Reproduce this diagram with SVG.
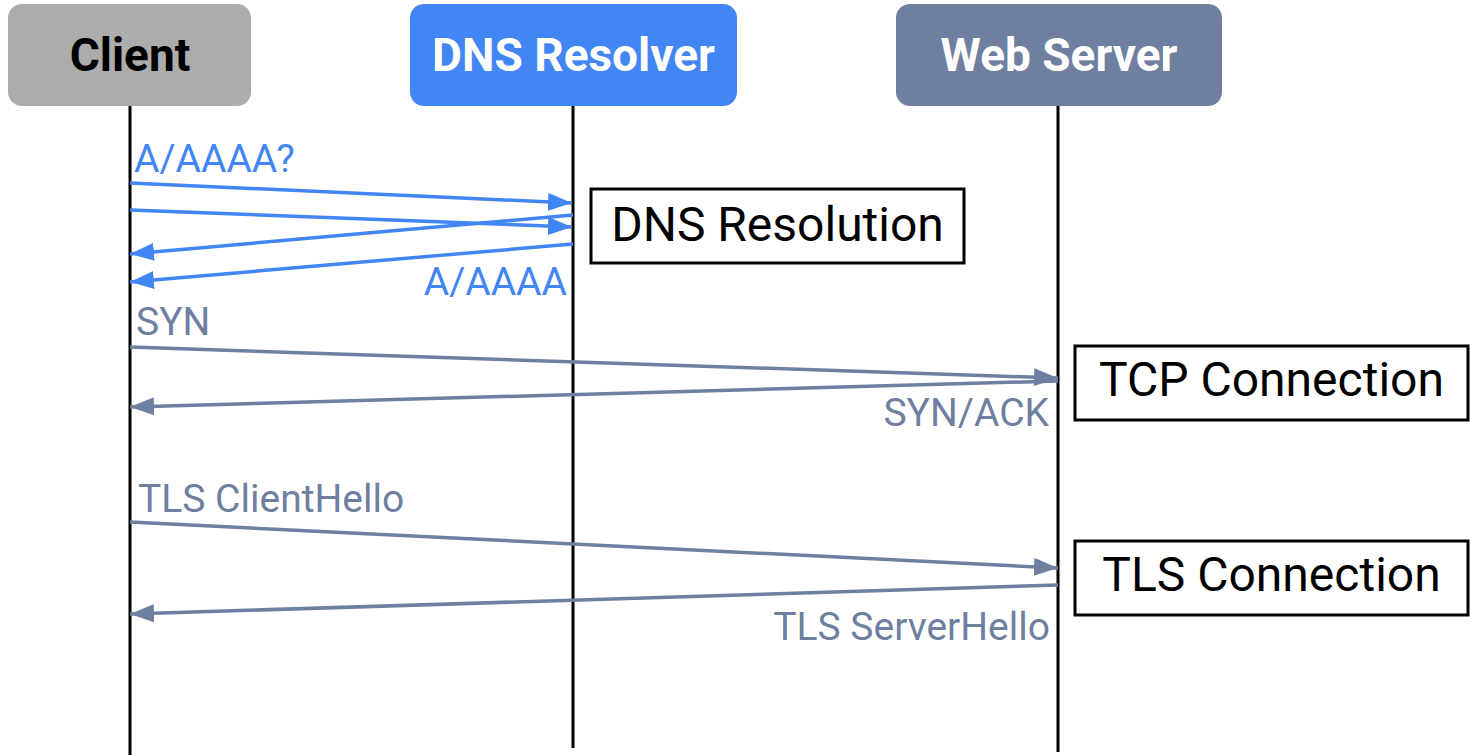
<svg xmlns="http://www.w3.org/2000/svg" width="1471" height="755" viewBox="0 0 1471 755">
<defs>
<style>
.hdr{font-family:Roboto,"Liberation Sans",sans-serif;font-weight:700;font-size:46px;text-anchor:middle}
.life{stroke:#000;stroke-width:3;fill:none}
.blue{stroke:#4285f4;stroke-width:3.5;fill:none}
.slate{stroke:#6e7f9f;stroke-width:3.5;fill:none}
.lblb{font-family:Roboto,"Liberation Sans",sans-serif;font-size:39px;fill:#4285f4}
.lbls{font-family:Roboto,"Liberation Sans",sans-serif;font-size:39px;fill:#6e7f9f}
.box{fill:#fff;stroke:#000;stroke-width:3}
.boxt{font-family:Roboto,"Liberation Sans",sans-serif;font-size:48px;fill:#000;text-anchor:middle}
</style>
<marker id="ab" markerUnits="userSpaceOnUse" markerWidth="26" markerHeight="20" refX="24" refY="9" orient="auto" viewBox="0 0 26 20"><path d="M0,0 L24,9 L0,18 z" fill="#4285f4"/></marker>
<marker id="as" markerUnits="userSpaceOnUse" markerWidth="26" markerHeight="20" refX="24" refY="9" orient="auto" viewBox="0 0 26 20"><path d="M0,0 L24,9 L0,18 z" fill="#6e7f9f"/></marker>
</defs>
<rect width="1471" height="755" fill="#fff"/>
<g id="lifelines">
<line class="life" x1="130" y1="106" x2="130" y2="755"/>
<line class="life" x1="573" y1="106" x2="573" y2="748"/>
<line class="life" x1="1058" y1="106" x2="1058" y2="752"/>
</g>
<g id="client">
<rect x="8" y="4" width="243" height="102" rx="14" fill="#acacac"/>
<text class="hdr" x="130" y="71" fill="#000">Client</text>
</g>
<g id="dns-resolver">
<rect x="410" y="4" width="327" height="102" rx="14" fill="#4285f4"/>
<text class="hdr" x="573.5" y="71" fill="#fff">DNS Resolver</text>
</g>
<g id="web-server">
<rect x="896" y="4" width="326" height="102" rx="14" fill="#6e7f9f"/>
<text class="hdr" x="1059" y="71" fill="#fff">Web Server</text>
</g>
<g id="dns-resolution">
<rect class="box" x="591" y="189" width="373" height="74"/>
<text class="boxt" x="777.5" y="241">DNS Resolution</text>
</g>
<g id="tcp-connection">
<rect class="box" x="1075" y="346" width="393" height="74"/>
<text class="boxt" x="1271.5" y="396">TCP Connection</text>
</g>
<g id="tls-connection">
<rect class="box" x="1075" y="541" width="393" height="74"/>
<text class="boxt" x="1271.5" y="591">TLS Connection</text>
</g>
<g id="connectors">
<line class="blue" x1="130" y1="183" x2="572" y2="203" marker-end="url(#ab)"/>
<line class="blue" x1="130" y1="210" x2="572" y2="227" marker-end="url(#ab)"/>
<line class="blue" x1="573" y1="215" x2="130" y2="254" marker-end="url(#ab)"/>
<line class="blue" x1="573" y1="244" x2="130" y2="282" marker-end="url(#ab)"/>
<line class="slate" x1="130" y1="347" x2="1058" y2="378" marker-end="url(#as)"/>
<line class="slate" x1="1058" y1="381" x2="130" y2="407" marker-end="url(#as)"/>
<line class="slate" x1="130" y1="522" x2="1058" y2="568" marker-end="url(#as)"/>
<line class="slate" x1="1058" y1="585" x2="130" y2="614" marker-end="url(#as)"/>
</g>
<g id="labels">
<text class="lblb" x="134" y="172">A/AAAA?</text>
<text class="lblb" x="567" y="295" text-anchor="end">A/AAAA</text>
<text class="lbls" x="136" y="335">SYN</text>
<text class="lbls" x="1049" y="426" text-anchor="end">SYN/ACK</text>
<text class="lbls" x="138" y="512">TLS ClientHello</text>
<text class="lbls" x="1050" y="640" text-anchor="end">TLS ServerHello</text>
</g>
</svg>
